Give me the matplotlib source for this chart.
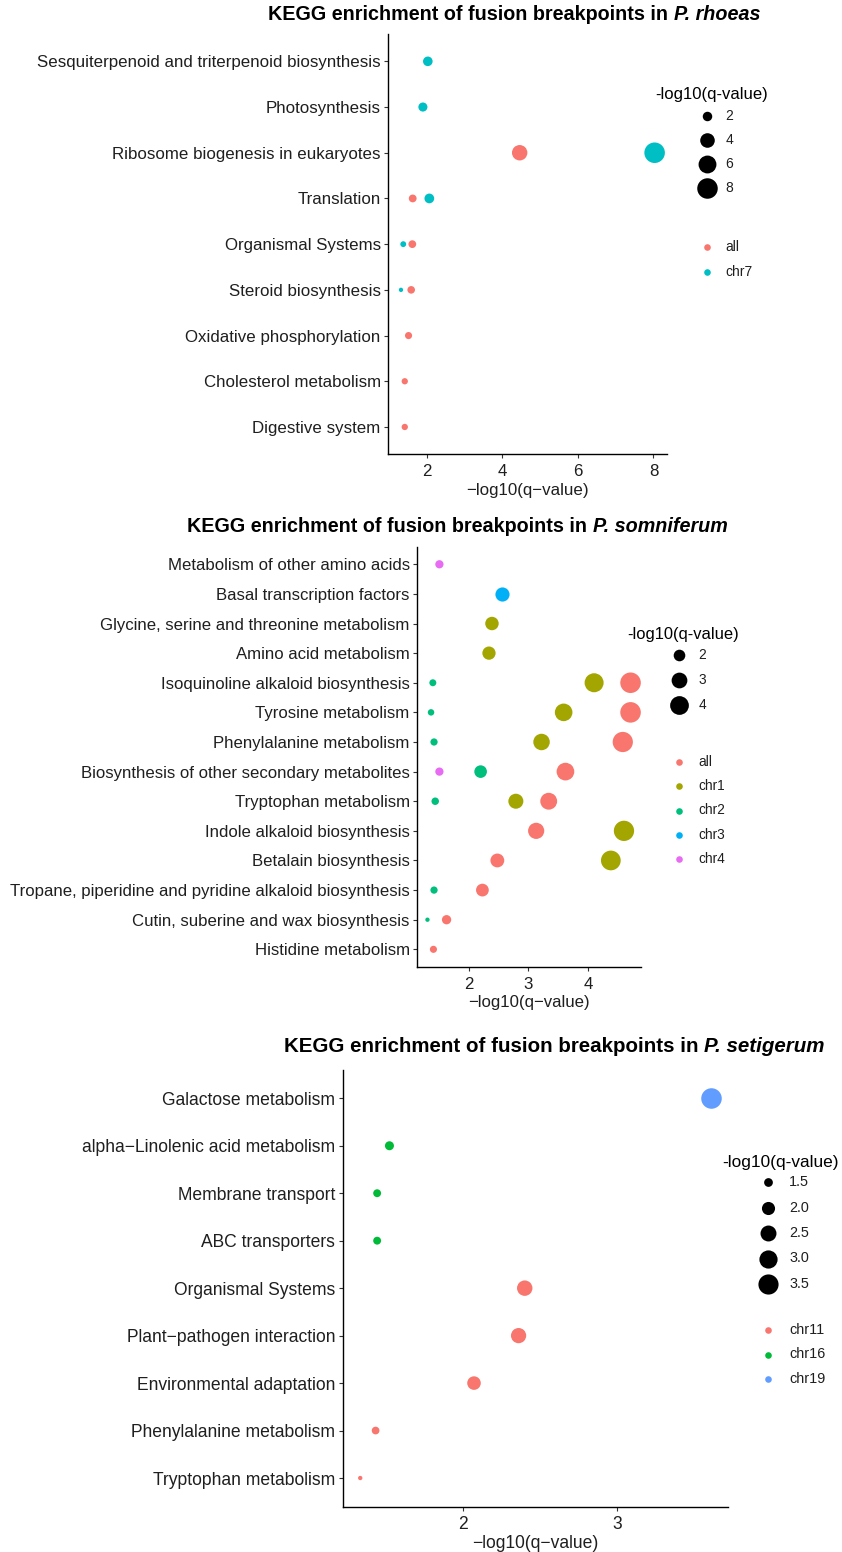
import numpy as np
import matplotlib
matplotlib.use("Agg")
import matplotlib.pyplot as plt

plt.rcParams['font.family'] = ['Liberation Sans', 'DejaVu Sans']

# ---------------- P. rhoeas ----------------
rhoeas_terms = [
    "Sesquiterpenoid and triterpenoid biosynthesis",
    "Photosynthesis",
    "Ribosome biogenesis in eukaryotes",
    "Translation",
    "Organismal Systems",
    "Steroid biosynthesis",
    "Oxidative phosphorylation",
    "Cholesterol metabolism",
    "Digestive system",
]
rhoeas_groups = ["all", "chr7"]
rhoeas_point_term = [
    "Sesquiterpenoid and triterpenoid biosynthesis",
    "Photosynthesis",
    "Ribosome biogenesis in eukaryotes", "Ribosome biogenesis in eukaryotes",
    "Translation", "Translation",
    "Organismal Systems", "Organismal Systems",
    "Steroid biosynthesis", "Steroid biosynthesis",
    "Oxidative phosphorylation",
    "Cholesterol metabolism",
    "Digestive system",
]
rhoeas_point_group = ["chr7", "chr7", "all", "chr7", "all", "chr7",
                      "chr7", "all", "chr7", "all", "all", "all", "all"]
rhoeas_point_value = [2.03, 1.90, 4.46, 8.03, 1.63, 2.07,
                      1.38, 1.62, 1.32, 1.59, 1.52, 1.42, 1.42]
rhoeas_xticks = [2, 4, 6, 8]
rhoeas_size_breaks = [2, 4, 6, 8]
rhoeas_size_labels = ["2", "4", "6", "8"]

# ---------------- P. somniferum ----------------
somni_terms = [
    "Metabolism of other amino acids",
    "Basal transcription factors",
    "Glycine, serine and threonine metabolism",
    "Amino acid metabolism",
    "Isoquinoline alkaloid biosynthesis",
    "Tyrosine metabolism",
    "Phenylalanine metabolism",
    "Biosynthesis of other secondary metabolites",
    "Tryptophan metabolism",
    "Indole alkaloid biosynthesis",
    "Betalain biosynthesis",
    "Tropane, piperidine and pyridine alkaloid biosynthesis",
    "Cutin, suberine and wax biosynthesis",
    "Histidine metabolism",
]
somni_groups = ["all", "chr1", "chr2", "chr3", "chr4"]
somni_point_term = [
    "Metabolism of other amino acids",
    "Basal transcription factors",
    "Glycine, serine and threonine metabolism",
    "Amino acid metabolism",
    "Isoquinoline alkaloid biosynthesis", "Isoquinoline alkaloid biosynthesis",
    "Isoquinoline alkaloid biosynthesis",
    "Tyrosine metabolism", "Tyrosine metabolism", "Tyrosine metabolism",
    "Phenylalanine metabolism", "Phenylalanine metabolism", "Phenylalanine metabolism",
    "Biosynthesis of other secondary metabolites",
    "Biosynthesis of other secondary metabolites",
    "Biosynthesis of other secondary metabolites",
    "Tryptophan metabolism", "Tryptophan metabolism", "Tryptophan metabolism",
    "Indole alkaloid biosynthesis", "Indole alkaloid biosynthesis",
    "Betalain biosynthesis", "Betalain biosynthesis",
    "Tropane, piperidine and pyridine alkaloid biosynthesis",
    "Tropane, piperidine and pyridine alkaloid biosynthesis",
    "Cutin, suberine and wax biosynthesis", "Cutin, suberine and wax biosynthesis",
    "Histidine metabolism",
]
somni_point_group = [
    "chr4", "chr3", "chr1", "chr1",
    "chr2", "chr1", "all",
    "chr2", "chr1", "all",
    "chr2", "chr1", "all",
    "chr4", "chr2", "all",
    "chr2", "chr1", "all",
    "all", "chr1",
    "all", "chr1",
    "chr2", "all",
    "chr2", "all",
    "all",
]
somni_point_value = [
    1.51, 2.56, 2.39, 2.34,
    1.40, 4.10, 4.71,
    1.37, 3.59, 4.71,
    1.42, 3.22, 4.58,
    1.51, 2.20, 3.62,
    1.44, 2.79, 3.34,
    3.13, 4.60,
    2.48, 4.38,
    1.42, 2.23,
    1.31, 1.63,
    1.41,
]
somni_xticks = [2, 3, 4]
somni_size_breaks = [2, 3, 4]
somni_size_labels = ["2", "3", "4"]

# ---------------- P. setigerum ----------------
seti_terms = [
    "Galactose metabolism",
    "alpha\u2212Linolenic acid metabolism",
    "Membrane transport",
    "ABC transporters",
    "Organismal Systems",
    "Plant\u2212pathogen interaction",
    "Environmental adaptation",
    "Phenylalanine metabolism",
    "Tryptophan metabolism",
]
seti_groups = ["chr11", "chr16", "chr19"]
seti_point_term = list(seti_terms)
seti_point_group = ["chr19", "chr16", "chr16", "chr16",
                    "chr11", "chr11", "chr11", "chr11", "chr11"]
seti_point_value = [3.61, 1.52, 1.44, 1.44, 2.40, 2.36, 2.07, 1.43, 1.33]
seti_xticks = [2, 3]
seti_size_breaks = [1.5, 2.0, 2.5, 3.0, 3.5]
seti_size_labels = ["1.5", "2.0", "2.5", "3.0", "3.5"]

# default hue palettes for 2, 3 and 5 levels
PAL = {
    2: ["#F8766D", "#00BFC4"],
    3: ["#F8766D", "#00BA38", "#619CFF"],
    5: ["#F8766D", "#A3A500", "#00BF7D", "#00B0F6", "#E76BF3"],
}

W, H = 842, 1552
DPI = 100
PX2PT = 72.0 / DPI
fig = plt.figure(figsize=(W / DPI, H / DPI), dpi=DPI)

TXT = "#1f1f1f"
AX_FS = 12.2
TITLE_FS = 14.2
LEG_TITLE_FS = 12.0
LEG_FS = 10.0


def diam_px(v, vmin, vmax):
    """Area-scaled point diameter in pixels (size range 1..6)."""
    frac = np.clip((np.asarray(v, float) - vmin) / (vmax - vmin), 0, 1)
    size = 1 + 5 * np.sqrt(frac)
    return (2.845 * size + 0.945) * 1.14


def area(d_px):
    return (np.asarray(d_px) * PX2PT) ** 2


overlay = fig.add_axes([0, 0, 1, 1], zorder=10)
overlay.set_xlim(0, W)
overlay.set_ylim(H, 0)
overlay.axis("off")


def panel(terms, groups, p_term, p_group, p_val, xticks, box, title_plain,
          title_italic, title_xy, size_breaks, size_labels, size_leg, col_leg,
          fscale=1.0, tscale=1.0, xlabelpad=2.5):
    left, right, top, bottom = box
    ax = fig.add_axes([left / W, 1 - bottom / H, (right - left) / W,
                       (bottom - top) / H])
    n = len(terms)
    ypos = {t: n - 1 - i for i, t in enumerate(terms)}
    vals = np.array(p_val)
    vmin, vmax = vals.min(), vals.max()
    pad = 0.05 * (vmax - vmin)
    colors = PAL[len(groups)]
    for g, c in zip(groups, colors):
        idx = [i for i, gg in enumerate(p_group) if gg == g]
        xs = vals[idx]
        ys = [ypos[p_term[i]] for i in idx]
        ax.scatter(xs, ys, s=area(diam_px(xs, vmin, vmax)), color=c,
                   linewidths=0, zorder=3)
    ax.set_xlim(vmin - pad, vmax + pad)
    ax.set_ylim(-0.6, n - 1 + 0.6)
    ax.set_yticks([ypos[t] for t in terms])
    ax.set_yticklabels(terms)
    ax.set_xticks(xticks)
    ax.set_xticklabels([str(t) for t in xticks])
    for s in ("top", "right"):
        ax.spines[s].set_visible(False)
    for s in ("left", "bottom"):
        ax.spines[s].set_linewidth(1.0)
        ax.spines[s].set_color("black")
    ax.tick_params(axis="both", length=3, width=0.8, color="#333333",
                   labelsize=AX_FS * fscale, labelcolor=TXT, pad=2.5)
    ax.tick_params(axis="x", pad=4.0)
    ax.set_xlabel("\u2212log10(q\u2212value)", fontsize=AX_FS * fscale,
                  color=TXT, labelpad=xlabelpad)

    # title: bold text followed by bold-italic species name
    renderer = fig.canvas.get_renderer()
    t1 = overlay.text(0, title_xy[1], title_plain, fontsize=TITLE_FS * tscale,
                      fontweight="bold", color="black", va="center", ha="left")
    t2 = overlay.text(0, title_xy[1], title_italic, fontsize=TITLE_FS * tscale,
                      fontweight="bold", fontstyle="italic", color="black",
                      va="center", ha="left")
    w1 = t1.get_window_extent(renderer).width
    w2 = t2.get_window_extent(renderer).width
    x0 = title_xy[0] - (w1 + w2) / 2
    t1.set_x(x0)
    t2.set_x(x0 + w1)

    # size legend
    sx, sy0, sdy, slx, tcx, tcy = size_leg
    overlay.text(tcx, tcy, "-log10(q-value)", fontsize=LEG_TITLE_FS * fscale,
                 color="black", ha="center", va="center")
    for k, (b, lab) in enumerate(zip(size_breaks, size_labels)):
        yy = sy0 + k * sdy
        overlay.scatter([sx], [yy], s=area(diam_px(b, vmin, vmax)),
                        color="black", linewidths=0)
        overlay.text(slx, yy, lab, fontsize=LEG_FS * fscale, color=TXT,
                     ha="left", va="center")

    # colour legend
    cx, cy0, cdy, clx = col_leg
    for k, (g, c) in enumerate(zip(groups, colors)):
        yy = cy0 + k * cdy
        overlay.scatter([cx], [yy], s=area(6.6), color=c, linewidths=0)
        overlay.text(clx, yy, g, fontsize=LEG_FS * fscale, color=TXT,
                     ha="left", va="center")
    return ax


panel(rhoeas_terms, rhoeas_groups, rhoeas_point_term, rhoeas_point_group,
      rhoeas_point_value, rhoeas_xticks,
      (388.3, 667.3, 33.9, 454.4),
      "KEGG enrichment of fusion breakpoints in ", "P. rhoeas", (514, 15),
      rhoeas_size_breaks, rhoeas_size_labels,
      (706.5, 115.8, 24.2, 725.5, 711.5, 94.5),
      (706.5, 246.7, 25.0, 725.5))

panel(somni_terms, somni_groups, somni_point_term, somni_point_group,
      somni_point_value, somni_xticks,
      (417.3, 640.7, 546.5, 967.1),
      "KEGG enrichment of fusion breakpoints in ", "P. somniferum", (457.5, 527),
      somni_size_breaks, somni_size_labels,
      (679.0, 655.0, 25.0, 698.5, 683.5, 635.0),
      (678.5, 761.7, 24.4, 698.5), fscale=0.99, tscale=1.0)

panel(seti_terms, seti_groups, seti_point_term, seti_point_group,
      seti_point_value, seti_xticks,
      (342.7, 728.3, 1069.8, 1506.5),
      "KEGG enrichment of fusion breakpoints in ", "P. setigerum", (554.5, 1047),
      seti_size_breaks, seti_size_labels,
      (768.3, 1182.3, 25.4, 789.0, 780.5, 1163.0),
      (768.3, 1330.0, 24.5, 789.0), fscale=1.035, tscale=1.04, xlabelpad=1.0)

fig.savefig("out.png", dpi=DPI, facecolor="white")
